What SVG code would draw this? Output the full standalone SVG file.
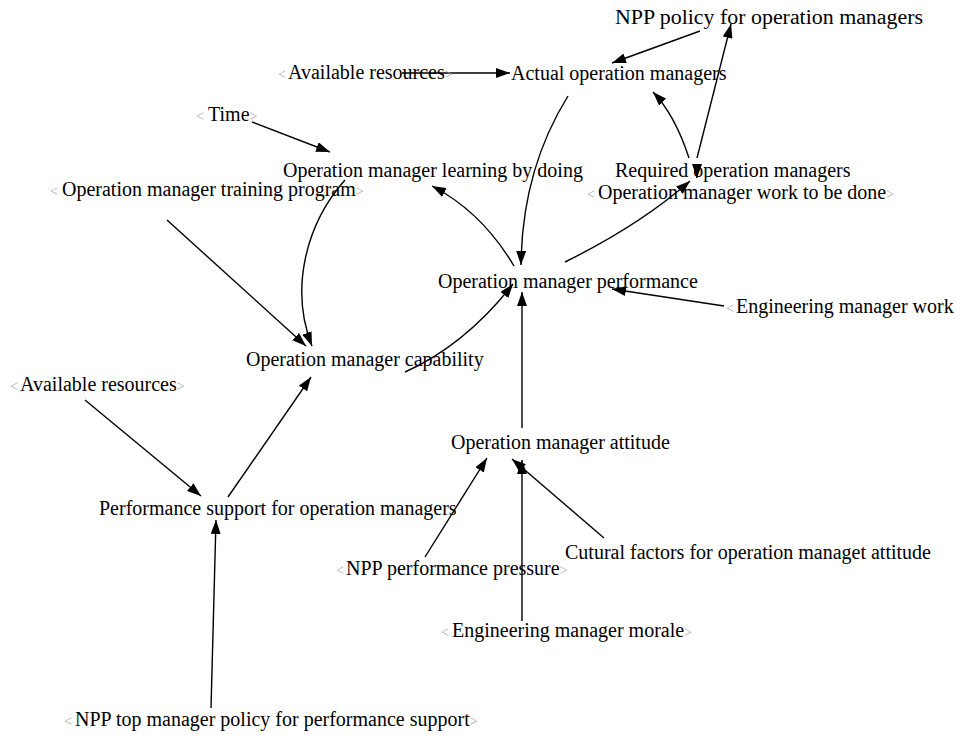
<svg xmlns="http://www.w3.org/2000/svg" width="956" height="735" viewBox="0 0 956 735">
  <defs>
    <marker id="head" markerUnits="userSpaceOnUse" markerWidth="15" markerHeight="10" refX="14" refY="5" orient="auto">
      <path d="M0,0 L14,5 L0,10 z" fill="#000"/>
    </marker>
    <style>
      text { font-family: "Liberation Serif", "Times New Roman", serif; font-size: 20px; fill: #000; }
      .br { fill: #a8a8a8; font-size: 14px; }
      .link { fill: none; stroke: #000; stroke-width: 1.4; marker-end: url(#head); }
    </style>
  </defs>
  <rect width="956" height="735" fill="#fff"/>

  <g id="connectors">
    <path class="link" d="M700,31 L612,63"/>
    <path class="link" d="M697,158 L731,24"/>
    <path class="link" d="M689,158 Q675,115 653,92"/>
    <path class="link" d="M402,73 L510,73"/>
    <path class="link" d="M568,96 Q522,170 521,265"/>
    <path class="link" d="M252,122 L330,152"/>
    <path class="link" d="M514,266 Q482,212 432,186"/>
    <path class="link" d="M345,180 C305,225 290,290 312,346"/>
    <path class="link" d="M167,220 L306,346"/>
    <path class="link" d="M405,372 Q465,345 513,284"/>
    <path class="link" d="M565,262 Q640,225 690,181"/>
    <path class="link" d="M724,306 L612,289"/>
    <path class="link" d="M522,428 L522,292"/>
    <path class="link" d="M228,497 L311,377"/>
    <path class="link" d="M85,400 L201,496"/>
    <path class="link" d="M211,708 L216,520"/>
    <path class="link" d="M425,557 L487,458"/>
    <path class="link" d="M522,621 L522,460"/>
    <path class="link" d="M604,538 L512,459"/>
    <path class="link" d="M697,164 L697,178"/>
  </g>

  <g id="npp-policy"><text x="615" y="24" textLength="308" lengthAdjust="spacingAndGlyphs">NPP policy for operation managers</text></g>
  <g id="available-resources-top"><text x="278" y="79"><tspan class="br">&lt;</tspan><tspan x="288">Available resources</tspan><tspan class="br">&gt;</tspan></text></g>
  <g id="actual-operation-managers"><text x="511" y="80">Actual operation managers</text></g>
  <g id="time"><text x="196" y="121"><tspan class="br">&lt;</tspan><tspan x="208">Time</tspan><tspan class="br">&gt;</tspan></text></g>
  <g id="learning-by-doing"><text x="283" y="177">Operation manager learning by doing</text></g>
  <g id="required-operation-managers"><text x="615" y="177">Required operation managers</text></g>
  <g id="work-to-be-done"><text x="587" y="199"><tspan class="br">&lt;</tspan><tspan x="598">Operation manager work to be done</tspan><tspan class="br">&gt;</tspan></text></g>
  <g id="training-program"><text x="50" y="196"><tspan class="br">&lt;</tspan><tspan x="62">Operation manager training program</tspan><tspan class="br">&gt;</tspan></text></g>
  <g id="performance"><text x="438" y="288">Operation manager performance</text></g>
  <g id="engineering-manager-work"><text x="726" y="313"><tspan class="br">&lt;</tspan><tspan x="736">Engineering manager work</tspan></text></g>
  <g id="capability"><text x="246" y="366">Operation manager capability</text></g>
  <g id="available-resources-bottom"><text x="10" y="391"><tspan class="br">&lt;</tspan><tspan x="20">Available resources</tspan><tspan class="br">&gt;</tspan></text></g>
  <g id="attitude"><text x="451" y="449">Operation manager attitude</text></g>
  <g id="performance-support"><text x="99" y="515">Performance support for operation managers</text></g>
  <g id="cultural-factors"><text x="565" y="559">Cutural factors for operation managet attitude</text></g>
  <g id="performance-pressure"><text x="336" y="575"><tspan class="br">&lt;</tspan><tspan x="346">NPP performance pressure</tspan><tspan class="br">&gt;</tspan></text></g>
  <g id="engineering-morale"><text x="441" y="637"><tspan class="br">&lt;</tspan><tspan x="452">Engineering manager morale</tspan><tspan class="br">&gt;</tspan></text></g>
  <g id="top-manager-policy"><text x="64" y="726"><tspan class="br">&lt;</tspan><tspan x="75">NPP top manager policy for performance support</tspan><tspan class="br">&gt;</tspan></text></g>
</svg>
